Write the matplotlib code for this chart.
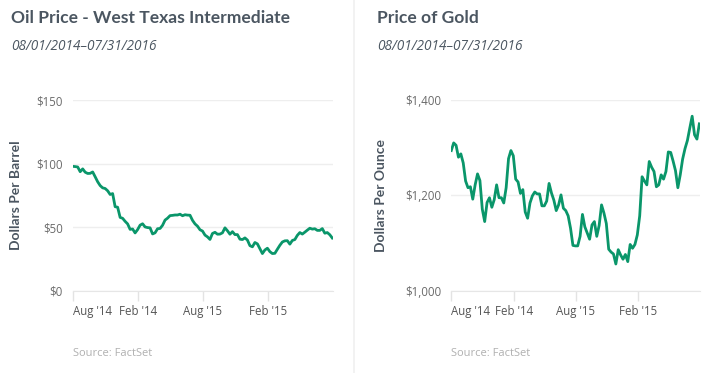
import numpy as np
import pandas as pd
import matplotlib
matplotlib.use("Agg")
import matplotlib.pyplot as plt
import matplotlib.dates as mdates
from matplotlib.lines import Line2D

# weekly closes, Fridays 08/01/2014 .. 07/29/2016
dates = pd.date_range("2014-08-01", "2016-07-29", freq="W-FRI")

oil = [97.9, 97.7, 97.4, 93.7, 95.9,
       93.3, 92.3, 92.4, 93.5,
       89.7, 85.8, 82.8, 81.0, 80.5,
       78.7, 75.8, 76.5, 66.2,
       65.8, 57.8, 57.1, 54.7,
       52.7, 48.4, 48.7, 45.6, 48.2,
       51.7, 52.8, 50.3, 49.8,
       49.6, 44.8, 45.7, 48.9,
       49.1, 51.6, 55.7, 57.2,
       59.2, 59.4, 59.7, 59.7, 60.3,
       59.1, 59.9, 59.6, 59.5,
       55.5, 52.7, 50.9, 48.1, 47.1,
       43.9, 42.5, 40.5, 45.2,
       46.1, 44.6, 44.7, 45.7,
       49.6, 47.3, 44.6, 46.6, 44.3,
       44.3, 40.7, 40.4, 41.7,
       40.0, 35.6, 34.7, 38.1,
       37.0, 33.2, 29.4, 32.2, 33.6,
       30.9, 29.4, 29.6, 32.8,
       35.9, 38.5, 39.4, 39.5,
       36.8, 39.7, 40.4, 43.7, 45.9,
       44.7, 46.2, 47.8, 49.3,
       48.6, 48.9, 47.6, 47.6,
       49.0, 45.4, 45.9, 44.2, 41.6]

gold = [1294, 1310, 1305, 1280, 1287,
        1268, 1230, 1216, 1218,
        1192, 1222, 1245, 1231, 1171,
        1145, 1185, 1195, 1175,
        1191, 1222, 1195, 1195,
        1184, 1216, 1277, 1294, 1283,
        1234, 1228, 1204, 1212,
        1165, 1152, 1184, 1199,
        1207, 1203, 1203, 1178,
        1178, 1188, 1225, 1205, 1190,
        1168, 1180, 1201, 1173,
        1168, 1157, 1131, 1095, 1094,
        1094, 1114, 1160, 1134,
        1121, 1108, 1138, 1145,
        1114, 1137, 1180, 1163, 1141,
        1087, 1081, 1077, 1056,
        1086, 1075, 1066, 1076,
        1061, 1097, 1089, 1097, 1117,
        1157, 1239, 1230, 1222,
        1271, 1259, 1250, 1218,
        1222, 1243, 1234, 1250, 1291,
        1290, 1272, 1252, 1216,
        1243, 1276, 1298, 1315,
        1341, 1366, 1327, 1318, 1350]

tick_dates = pd.to_datetime(["2014-08-01", "2015-02-01", "2015-08-01", "2016-02-01"])
tick_labels = ["Aug '14", "Feb '14", "Aug '15", "Feb '15"]

panels = [
    dict(title="Oil Price - West Texas Intermediate", ylabel="Dollars Per Barrel",
         values=oil, yticks=[0, 50, 100, 150], ylabels=["$0", "$50", "$100", "$150"],
         rect=[72.7, 100, 333, 291], title_x=11, ylabel_x=22),
    dict(title="Price of Gold", ylabel="Dollars Per Ounce",
         values=gold, yticks=[1000, 1200, 1400], ylabels=["$1,000", "$1,200", "$1,400"],
         rect=[451.3, 100, 700, 290.7], title_x=377, ylabel_x=387),
]

W, H = 708, 373
TXT = "#4b5661"
GREEN = "#0a966a"
GRID = "#eeeeee"

fig = plt.figure(figsize=(W / 100, H / 100), dpi=100)
fig.patch.set_facecolor("white")

for p in panels:
    x0, y0, x1, y1 = p["rect"]
    ax = fig.add_axes([x0 / W, (H - y1) / H, (x1 - x0) / W, (y1 - y0) / H])
    ax.plot(dates, p["values"], color=GREEN, lw=2.0, solid_joinstyle="round")
    ax.set_xlim(pd.Timestamp("2014-08-01"), pd.Timestamp("2016-07-31"))
    ax.set_ylim(p["yticks"][0], p["yticks"][-1])
    ax.set_yticks(p["yticks"])
    ax.set_yticklabels(p["ylabels"], fontfamily="Open Sans", fontsize=8.3, color="#6a6a6a")
    ax.set_xticks(tick_dates)
    ax.set_xticklabels(tick_labels, fontfamily="Open Sans", fontsize=8.3, color="#555555")
    ax.get_xticklabels()[0].set_ha("left")
    ax.tick_params(axis="y", length=0, pad=7)
    ax.tick_params(axis="x", length=7, width=1, color="#e3e3e3", pad=3)
    for s in ["top", "right", "left"]:
        ax.spines[s].set_visible(False)
    ax.spines["bottom"].set_color("#e6e6e6")
    ax.grid(axis="y", color=GRID, lw=1)
    ax.set_axisbelow(True)
    ax.set_ylabel(p["ylabel"], fontfamily="Lato", fontweight="bold", fontsize=10,
                  color=TXT)
    ax.yaxis.set_label_coords((p["ylabel_x"] - x0) / (x1 - x0), 0.5)
    ax.patch.set_alpha(0)

    fig.text(p["title_x"] / W, 1 - 18 / H, p["title"], fontfamily="Lato",
             fontweight="bold", fontsize=12.6, color=TXT, va="center")
    fig.text(p["title_x"] / W, 1 - 46 / H, "08/01/2014\u201307/31/2016",
             fontfamily="Open Sans", style="italic", fontsize=9.8, color=TXT, va="center")
    fig.text(x0 / W, 1 - 353 / H, "Source: FactSet", fontfamily="Open Sans",
             fontsize=8, color="#b0b0b0", va="center")

# divider between the two panels
fig.add_artist(Line2D([354 / W, 354 / W], [0, 1], color="#f0f0f0", lw=1.2))

fig.savefig("out.png", dpi=100, facecolor="white")
